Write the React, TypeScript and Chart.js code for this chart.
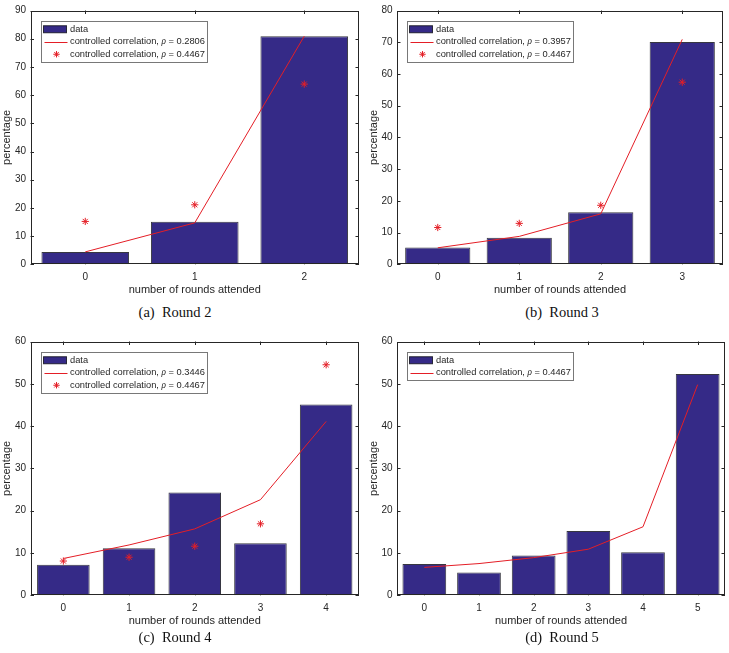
import React, { useEffect, useRef } from "react";
import { Chart, registerables } from "chart.js";

Chart.register(...registerables);

// ---------------- data ----------------
const round2Categories = ["0", "1", "2"];
const round2Data = [4.4, 15.1, 80.9];
const round2Fit = [4.4, 14.7, 80.9];
const round2Stars = [15.2, 21.1, 63.9];
const round2FitLabel = "controlled correlation, ρ = 0.2806";

const round3Categories = ["0", "1", "2", "3"];
const round3Data = [5.3, 8.4, 16.4, 70.1];
const round3Fit = [5.2, 8.8, 15.9, 70.9];
const round3Stars = [11.6, 12.9, 18.6, 57.4];
const round3FitLabel = "controlled correlation, ρ = 0.3957";

const round4Categories = ["0", "1", "2", "3", "4"];
const round4Data = [7.2, 11.1, 24.3, 12.3, 45.1];
const round4Fit = [8.7, 11.9, 15.7, 22.6, 41.1];
const round4Stars = [8.1, 9.0, 11.6, 16.9, 54.5];
const round4FitLabel = "controlled correlation, ρ = 0.3446";

const round5Categories = ["0", "1", "2", "3", "4", "5"];
const round5Data = [7.4, 5.4, 9.4, 15.2, 10.2, 52.3];
const round5Fit = [6.6, 7.5, 8.9, 10.9, 16.2, 49.8];
const round5FitLabel = "controlled correlation, ρ = 0.4467";

const starLabel = "controlled correlation, ρ = 0.4467";
const dataLabel = "data";
const xTitle = "number of rounds attended";
const yTitle = "percentage";
const yMaxes = [90, 80, 60, 60];
const yStep = 10;
const captions = ["(a)  Round 2", "(b)  Round 3", "(c)  Round 4", "(d)  Round 5"];

// ---------------- style ----------------
const BAR = "rgb(53,42,135)";
const BAR_EDGE = "rgba(20,20,30,0.85)";
const RED = "rgb(228,30,38)";
const AXIS = "rgb(38,38,38)";
const SANS = "'Liberation Sans', Arial, Helvetica, sans-serif";
const SERIF = "'Liberation Serif', 'Times New Roman', serif";

Chart.defaults.font.family = SANS;

function drawLabel(ctx: CanvasRenderingContext2D, text: string, x: number, y: number, size: number) {
  const parts = text.split("ρ");
  let cx = x;
  parts.forEach((p, i) => {
    ctx.font = `${size}px ${SANS}`;
    ctx.fillText(p, cx, y);
    cx += ctx.measureText(p).width;
    if (i < parts.length - 1) {
      ctx.font = `italic ${size}px ${SERIF}`;
      ctx.fillText("ρ", cx, y);
      cx += ctx.measureText("ρ").width;
    }
  });
  return cx - x;
}

function measureLabel(ctx: CanvasRenderingContext2D, text: string, size: number) {
  const parts = text.split("ρ");
  let w = 0;
  parts.forEach((p, i) => {
    ctx.font = `${size}px ${SANS}`;
    w += ctx.measureText(p).width;
    if (i < parts.length - 1) {
      ctx.font = `italic ${size}px ${SERIF}`;
      w += ctx.measureText("ρ").width;
    }
  });
  return w;
}

function drawStar(ctx: CanvasRenderingContext2D, x: number, y: number, r: number) {
  ctx.beginPath();
  ctx.moveTo(x - r, y);
  ctx.lineTo(x + r, y);
  ctx.moveTo(x, y - r);
  ctx.lineTo(x, y + r);
  const d = r * 0.7071;
  ctx.moveTo(x - d, y - d);
  ctx.lineTo(x + d, y + d);
  ctx.moveTo(x - d, y + d);
  ctx.lineTo(x + d, y - d);
  ctx.stroke();
}

const matlabAxes = {
  id: "matlabAxes",
  beforeDatasetsDraw(chart: any) {
    const { ctx, chartArea: a, scales } = chart;
    const xs = scales.x;
    const ys = scales.y;
    const L = 3.5;
    ctx.save();
    ctx.strokeStyle = AXIS;
    ctx.lineWidth = 1;
    ctx.beginPath();
    xs.ticks.forEach((_t: any, i: number) => {
      const px = Math.round(xs.getPixelForTick(i)) + 0.5;
      ctx.moveTo(px, a.bottom);
      ctx.lineTo(px, a.bottom - L);
      ctx.moveTo(px, a.top);
      ctx.lineTo(px, a.top + L);
    });
    ys.ticks.forEach((t: any) => {
      const py = Math.round(ys.getPixelForValue(t.value)) + 0.5;
      ctx.moveTo(a.left, py);
      ctx.lineTo(a.left + L, py);
      ctx.moveTo(a.right, py);
      ctx.lineTo(a.right - L, py);
    });
    ctx.stroke();
    ctx.restore();
  },
  afterDatasetsDraw(chart: any) {
    const { ctx, chartArea: a } = chart;
    ctx.save();
    ctx.strokeStyle = AXIS;
    ctx.lineWidth = 1;
    const l = Math.round(a.left) + 0.5;
    const t = Math.round(a.top) + 0.5;
    const r = Math.round(a.right) - 0.5;
    const b = Math.round(a.bottom) - 0.5;
    ctx.strokeRect(l, t, r - l, b - t);
    ctx.restore();
  },
  afterDraw(chart: any) {
    const { ctx, chartArea: a } = chart;
    const ds = chart.data.datasets;
    const size = 9.3;
    const rowH = 12.5;
    const x0 = Math.round(a.left + 10) + 0.5;
    const y0 = Math.round(a.top + 10) + 0.5;
    const textOff = 28.5;
    ctx.save();
    let maxW = 0;
    ds.forEach((d: any) => {
      maxW = Math.max(maxW, measureLabel(ctx, d.label, size));
    });
    const w = Math.round(textOff + maxW + 3);
    const h = Math.round(ds.length * rowH + 3);
    ctx.fillStyle = "#fff";
    ctx.fillRect(x0, y0, w, h);
    ctx.strokeStyle = "rgb(120,120,120)";
    ctx.lineWidth = 1;
    ctx.strokeRect(x0, y0, w, h);
    ds.forEach((d: any, i: number) => {
      const cy = y0 + 1.5 + rowH * (i + 0.5);
      if (d.type === "bar" || d.type === undefined) {
        ctx.fillStyle = BAR;
        ctx.fillRect(x0 + 2, cy - 3.5, 23, 7);
        ctx.strokeStyle = BAR_EDGE;
        ctx.strokeRect(x0 + 2, cy - 3.5, 23, 7);
      } else if (d.showLine === false) {
        ctx.strokeStyle = RED;
        ctx.lineWidth = 1;
        drawStar(ctx, x0 + 15, cy, 3.2);
      } else {
        ctx.strokeStyle = RED;
        ctx.lineWidth = 1;
        ctx.beginPath();
        ctx.moveTo(x0 + 3, Math.round(cy) + 0.5);
        ctx.lineTo(x0 + 26, Math.round(cy) + 0.5);
        ctx.stroke();
      }
      ctx.fillStyle = AXIS;
      ctx.textBaseline = "middle";
      ctx.textAlign = "left";
      drawLabel(ctx, d.label, x0 + textOff, cy, size);
    });
    ctx.restore();
  },
};

type PanelSpec = {
  categories: string[];
  data: number[];
  fit: number[];
  fitLabel: string;
  stars?: number[];
  yMax: number;
  left: number;
  top: number;
  yAxisW: number;
  padRight: number;
  titlePad: number;
  caption: string;
  captionX: number;
  captionY: number;
};

const W = 364;
const H = 300;

function Panel({ spec }: { spec: PanelSpec }) {
  const ref = useRef<HTMLCanvasElement>(null);
  useEffect(() => {
    const datasets: any[] = [
      {
        type: "bar",
        label: dataLabel,
        data: spec.data,
        backgroundColor: BAR,
        borderColor: BAR_EDGE,
        borderWidth: 1,
        borderSkipped: false,
        barPercentage: 0.8,
        categoryPercentage: 1,
        order: 3,
      },
      {
        type: "line",
        label: spec.fitLabel,
        data: spec.fit,
        borderColor: RED,
        borderWidth: 1,
        pointRadius: 0,
        tension: 0,
        fill: false,
        order: 2,
      },
    ];
    if (spec.stars) {
      datasets.push({
        type: "line",
        label: starLabel,
        data: spec.stars,
        showLine: false,
        pointStyle: "star",
        pointRadius: 3.6,
        pointBorderColor: RED,
        pointBackgroundColor: RED,
        pointBorderWidth: 1,
        borderColor: RED,
        order: 1,
      });
    }
    const chart = new Chart(ref.current as HTMLCanvasElement, {
      type: "bar",
      data: { labels: spec.categories, datasets },
      options: {
        animation: false,
        responsive: false,
        maintainAspectRatio: false,
        devicePixelRatio: 1,
        layout: { padding: { top: 4.7, right: spec.padRight, bottom: 0, left: 0 } },
        plugins: { legend: { display: false }, tooltip: { enabled: false } },
        scales: {
          x: {
            type: "category",
            offset: true,
            grid: { display: false, drawTicks: false },
            border: { display: false },
            ticks: { color: AXIS, font: { size: 10 }, padding: 6.5, maxRotation: 0 },
            title: {
              display: true,
              text: xTitle,
              color: AXIS,
              font: { size: 11 },
              padding: { top: 0, bottom: 3.4 },
            },
            afterFit: (s: any) => {
              s.height = 35.7;
            },
          },
          y: {
            min: 0,
            max: spec.yMax,
            grid: { display: false, drawTicks: false },
            border: { display: false },
            ticks: { stepSize: yStep, color: AXIS, font: { size: 10 }, padding: 4.5 },
            title: {
              display: true,
              text: yTitle,
              color: AXIS,
              font: { size: 11 },
              padding: { top: spec.titlePad, bottom: 0 },
            },
            afterFit: (s: any) => {
              s.width = spec.yAxisW;
            },
          },
        },
      } as any,
      plugins: [matlabAxes],
    });
    return () => chart.destroy();
  }, []);
  return (
    <>
      <canvas
        ref={ref}
        width={W}
        height={H}
        style={{ position: "absolute", left: spec.left, top: spec.top, width: W, height: H }}
      />
      <div
        style={{
          position: "absolute",
          left: spec.captionX,
          top: spec.captionY,
          transform: "translate(-50%, -50%)",
          fontFamily: SERIF,
          fontSize: 14.5,
          color: "#111",
          whiteSpace: "pre",
          lineHeight: 1,
        }}
      >
        {spec.caption}
      </div>
    </>
  );
}

const panels: PanelSpec[] = [
  {
    categories: round2Categories, data: round2Data, fit: round2Fit, fitLabel: round2FitLabel, stars: round2Stars,
    yMax: yMaxes[0], left: 0, top: 0, yAxisW: 30.5, padRight: 5, titlePad: 0.1, caption: captions[0], captionX: 175, captionY: 312,
  },
  {
    categories: round3Categories, data: round3Data, fit: round3Fit, fitLabel: round3FitLabel, stars: round3Stars,
    yMax: yMaxes[1], left: 364, top: 0, yAxisW: 33, padRight: 3, titlePad: 3.4, caption: captions[1], captionX: 562, captionY: 312,
  },
  {
    categories: round4Categories, data: round4Data, fit: round4Fit, fitLabel: round4FitLabel, stars: round4Stars,
    yMax: yMaxes[2], left: 0, top: 331, yAxisW: 30.5, padRight: 5, titlePad: 0.1, caption: captions[2], captionX: 175, captionY: 306,
  },
  {
    categories: round5Categories, data: round5Data, fit: round5Fit, fitLabel: round5FitLabel,
    yMax: yMaxes[3], left: 364, top: 331, yAxisW: 33, padRight: 3, titlePad: 3.4, caption: captions[3], captionX: 562, captionY: 306,
  },
];

export default function App() {
  useEffect(() => {
    document.body.style.margin = "0";
  }, []);
  return (
    <div style={{ position: "absolute", left: 0, top: 0, width: 729, height: 653, background: "#fff", overflow: "hidden" }}>
      {panels.map((p, i) => (
        <div key={i} style={{ position: "absolute", left: 0, top: p.top, width: 729, height: 0 }}>
          <Panel spec={{ ...p, top: 0 }} />
        </div>
      ))}
    </div>
  );
}
